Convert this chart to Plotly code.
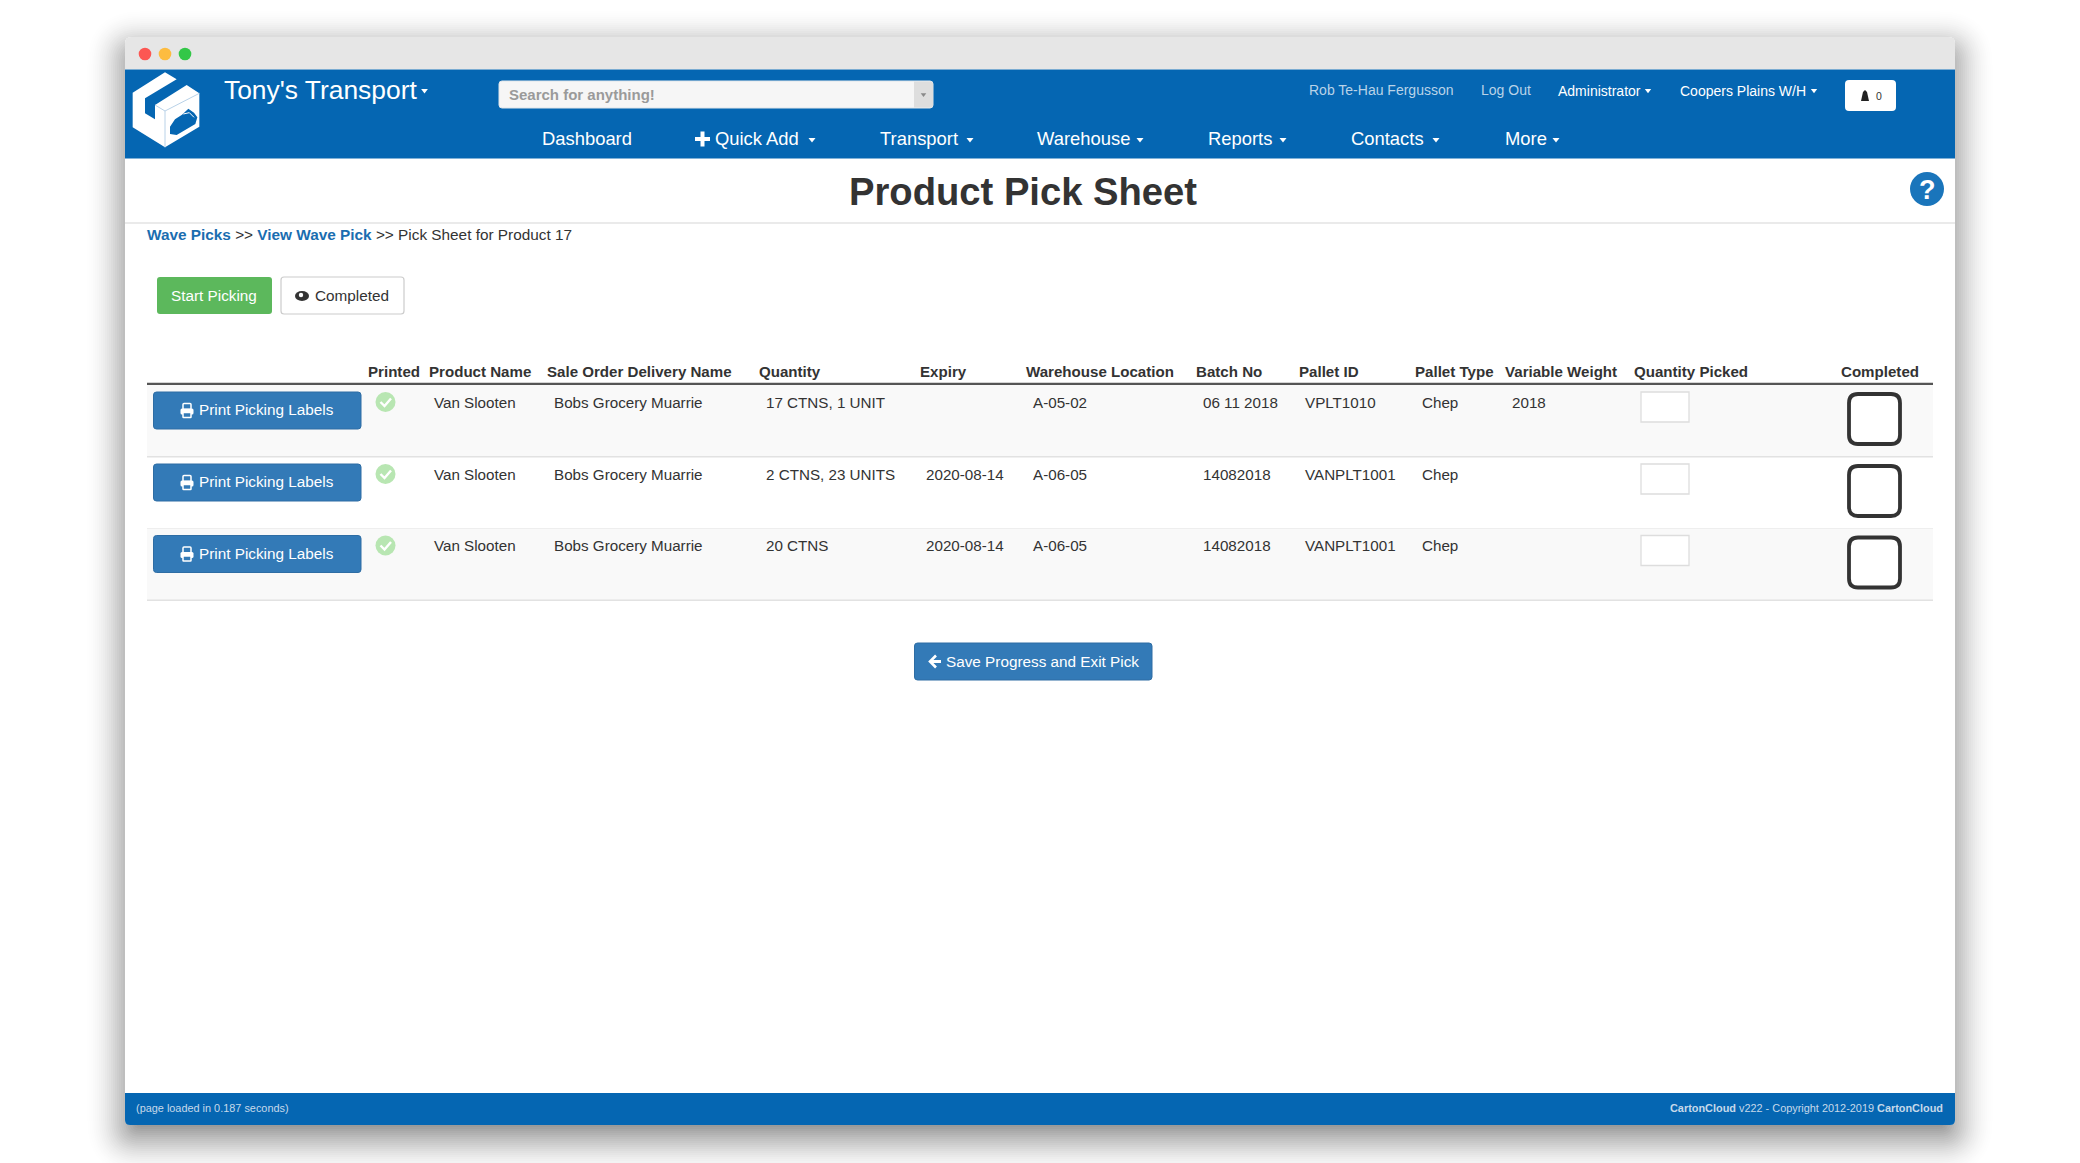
import plotly.graph_objects as go

# Page texts
brand = "Tony's Transport"
search_hint = "Search for anything!"
nav_items = ["Dashboard", "Quick Add", "Transport", "Warehouse", "Reports", "Contacts", "More"]
user_name = "Rob Te-Hau Fergusson"
logout = "Log Out"
role = "Administrator"
depot = "Coopers Plains W/H"
page_title = "Product Pick Sheet"

# Table contents
headers = ["Printed", "Product Name", "Sale Order Delivery Name", "Quantity", "Expiry",
           "Warehouse Location", "Batch No", "Pallet ID", "Pallet Type", "Variable Weight",
           "Quantity Picked", "Completed"]
products = ["Van Slooten", "Van Slooten", "Van Slooten"]
customers = ["Bobs Grocery Muarrie", "Bobs Grocery Muarrie", "Bobs Grocery Muarrie"]
quantities = ["17 CTNS, 1 UNIT", "2 CTNS, 23 UNITS", "20 CTNS"]
expiries = ["", "2020-08-14", "2020-08-14"]
locations = ["A-05-02", "A-06-05", "A-06-05"]
batches = ["06 11 2018", "14082018", "14082018"]
pallets = ["VPLT1010", "VANPLT1001", "VANPLT1001"]
pallet_types = ["Chep", "Chep", "Chep"]
weights = ["2018", "", ""]

# Layout in screen pixels
W, H = 2080, 1163
WIN_L, WIN_R, WIN_T, WIN_B = 125, 1955, 37, 1125
BLUE = "#0566b2"
BTN = "#337ab7"
FONT = "Liberation Sans"
nav_x = [541, 714, 879, 1035.5, 1206.5, 1350, 1503.5]
nav_caret_x = [0, 812, 970, 1140, 1283, 1436, 1556]
header_x = [367, 427.5, 545.5, 758, 918.5, 1024.5, 1194.5, 1297.5, 1414, 1504, 1633, 1840]
cell_x = [433, 552.5, 764.5, 924.5, 1031.5, 1201.5, 1303.5, 1420.5, 1510.5]
row_tops = [385, 457, 528.5]
ROW_H = 71.7

shapes = []
notes = []


def rrect(x0, y0, x1, y1, r=0, fill=None, line=None, lw=1, corners="tl tr br bl"):
    c = corners.split()
    tl, tr, br, bl = [r if k in c else 0 for k in ("tl", "tr", "br", "bl")]
    path = (f"M{x0+tl},{y0} L{x1-tr},{y0} Q{x1},{y0} {x1},{y0+tr} L{x1},{y1-br} Q{x1},{y1} {x1-br},{y1} "
            f"L{x0+bl},{y1} Q{x0},{y1} {x0},{y1-bl} L{x0},{y0+tl} Q{x0},{y0} {x0+tl},{y0} Z")
    shapes.append(dict(type="path", path=path, fillcolor=fill or "rgba(0,0,0,0)",
                       line=dict(color=line or "rgba(0,0,0,0)", width=lw if line else 0)))


def poly(points, fill=None, line=None, lw=1, close=True):
    path = "M" + " L".join(f"{x},{y}" for x, y in points) + (" Z" if close else "")
    shapes.append(dict(type="path", path=path, fillcolor=fill or "rgba(0,0,0,0)",
                       line=dict(color=line or "rgba(0,0,0,0)", width=lw if line else 0)))


def circle(cx, cy, r, fill):
    shapes.append(dict(type="circle", x0=cx-r, x1=cx+r, y0=cy-r, y1=cy+r, fillcolor=fill, line=dict(width=0)))


def text(x, y, s, size=15, color="#333333", anchor="left"):
    notes.append(dict(x=x, y=y, text=s, showarrow=False, xanchor=anchor, yanchor="middle", borderpad=0,
                      font=dict(family=FONT, size=size, color=color)))


def caret(x, y, w=4, color="white"):
    poly([(x-w, y-w*0.6), (x+w, y-w*0.6), (x, y+w*0.7)], fill=color)


def printer(x, y):
    rrect(x-4, y-7, x+4, y-1, 1, line="white", lw=1.5)
    rrect(x-6.5, y-2, x+6.5, y+4, 1.5, fill="white")
    rrect(x-4, y+2, x+4, y+7, 0.5, fill=BTN, line="white", lw=1.5)


# Window shadow, soft falloff from stacked see-through rectangles
SHADOW_REACH = 42
SHADOW_DROP = 12
darkness = lambda g: 0.27 * (1 - g / SHADOW_REACH) ** 2
for g in range(SHADOW_REACH, -SHADOW_DROP - 2, -2):
    alpha = darkness(g - 2) - darkness(g)
    rrect(WIN_L-g, WIN_T-g+SHADOW_DROP, WIN_R+g, WIN_B+g+SHADOW_DROP, max(g + 16, 4), fill=f"rgba(0,0,0,{alpha:.4f})")

# Window
rrect(WIN_L, WIN_T, WIN_R, WIN_B, 6, fill="white")
rrect(WIN_L, WIN_T, WIN_R, 69.5, 6, fill="#e6e6e6", corners="tl tr")
rrect(WIN_L, 69.5, WIN_R, 158.5, fill=BLUE)
rrect(WIN_L, 1093, WIN_R, WIN_B, 5, fill=BLUE, corners="br bl")
for cx, col in zip((145, 165, 185), ("#fc5753", "#fdbc40", "#33c748")):
    circle(cx, 54, 6.3, col)

# Logo
logo_pts = [(38, 188), (135, 127), (170, 148), (75, 205), (75, 250), (105, 268), (105, 225), (200, 165),
            (238, 190), (238, 290), (135, 352), (38, 292)]
to_px = lambda p: (120 + p[0] / 3, 30 + p[1] / 3)
poly([to_px(p) for p in logo_pts], fill="white")
poly([to_px(p) for p in [(105, 225), (135, 243), (238, 190)]], line="#b9d2e8", lw=1, close=False)
poly([to_px(p) for p in [(135, 243), (135, 352)]], line="#b9d2e8", lw=1, close=False)
poly([to_px(p) for p in [(150, 312), (150, 290), (165, 268), (186, 254), (205, 236), (222, 248), (232, 262),
                         (226, 282), (170, 315)]], fill=BLUE)
poly([to_px(p) for p in [(190, 252), (208, 248), (222, 262)]], line="white", lw=1, close=False)

# Top bar
text(223, 89.5, brand, 26.4, "white")
caret(424.5, 91, 3.4)
rrect(499, 81, 933, 108, 3, fill="#f6f6f6", line="#dfe5ea", lw=1)
rrect(914, 81.5, 933, 107.5, 3, fill="#dedede", corners="tr br")
caret(923.5, 95, 2.8, "#8a8a8a")
text(507.5, 94.5, f"<b>{search_hint}</b>", 15, "#9a9a9a")
text(1308, 89.5, user_name, 14, "#b9d3e8")
text(1480, 89.5, logout, 14, "#b9d3e8")
text(1557, 90.5, role, 14, "white")
caret(1648, 91, 3.2)
text(1679, 90.5, depot, 14, "white")
caret(1814, 91, 3.2)
rrect(1845, 80, 1896, 111, 4, fill="white")
poly([(1861, 101), (1863, 92), (1865, 90), (1867, 92), (1869, 101)], fill="#222222")
text(1875, 95.5, "0", 10.5, "#333333")

# Menu
for x, cx, name in zip(nav_x, nav_caret_x, nav_items):
    text(x, 138.5, name, 18.4, "white")
    if cx:
        caret(cx, 140, 3.5)
rrect(695, 137, 710, 141, fill="white")
rrect(700.5, 131.5, 704.5, 146.5, fill="white")

# Heading and breadcrumb
text(1023, 191.5, f"<b>{page_title}</b>", 38.2, "#333333", "center")
poly([(WIN_L, 223), (WIN_R, 223)], line="#e3e3e3", lw=1.5, close=False)
circle(1927, 189, 17, "#1a75bb")
text(1927, 189.5, "<b>?</b>", 27, "white", "center")
link = '<span style="color:#1a6db0"><b>%s</b></span>'
text(146, 234.5, f"{link % 'Wave Picks'} &gt;&gt; {link % 'View Wave Pick'} &gt;&gt; Pick Sheet for Product 17", 15.35)

# Action buttons
rrect(157, 277, 272, 314, 3, fill="#5cb85c")
text(213.5, 295.5, "Start Picking", 15.3, "white", "center")
rrect(281, 277, 404, 314, 3, fill="white", line="#cccccc", lw=1.2)
shapes.append(dict(type="circle", x0=295, x1=309, y0=291, y1=301, fillcolor="#333333", line=dict(width=0)))
circle(301, 295, 2.2, "white")
text(313.5, 295.5, "Completed", 15.3, "#333333")

# Table
for x, name in zip(header_x, headers):
    text(x, 371.5, f"<b>{name}</b>", 15.1, "#333333")
poly([(147, 384), (1933, 384)], line="#555555", lw=2.4, close=False)
columns = [products, customers, quantities, expiries, locations, batches, pallets, pallet_types, weights]
for i, top in enumerate(row_tops):
    if i != 1:
        rrect(147, top, 1933, top + ROW_H, fill="#f9f9f9")
    poly([(147, top + ROW_H), (1933, top + ROW_H)], line="#e2e2e2", lw=1.5, close=False)
    rrect(153.5, top + 7, 361, top + 44, 3, fill=BTN, line="#2e6da4", lw=1)
    printer(187, top + 25.5)
    text(198, top + 24.5, "Print Picking Labels", 15.3, "white")
    circle(385.5, top + 17, 10, "#b8e6b2")
    poly([(380.5, top + 17), (384.5, top + 21), (391, top + 13.5)], line="white", lw=2.4, close=False)
    for x, col in zip(cell_x, columns):
        if col[i]:
            text(x, top + 17, col[i], 15.2, "#333333")
    rrect(1641, top + 7, 1689, top + 37, fill="white", line="#dddddd", lw=1.3)
    rrect(1849, top + 9, 1900, top + 59, 9, fill="white", line="#333333", lw=3.8)

# Save button
rrect(914.5, 643, 1152, 680, 3, fill=BTN, line="#2e6da4", lw=1)
poly([(941, 661.5), (930, 661.5)], line="white", lw=3, close=False)
poly([(936, 655.5), (930, 661.5), (936, 667.5)], line="white", lw=2.6, close=False)
text(945, 661.5, "Save Progress and Exit Pick", 15.3, "white")

# Footer
text(135, 1108, "(page loaded in 0.187 seconds)", 10.9, "#c5d9ea")
text(1944, 1108, "<b>CartonCloud</b> v222 - Copyright 2012-2019 <b>CartonCloud</b>", 10.9, "#c5d9ea", "right")

fig = go.Figure()
fig.update_layout(width=W, height=H, margin=dict(l=0, r=0, t=0, b=0), paper_bgcolor="white", plot_bgcolor="white",
                  xaxis=dict(range=[0, W], visible=False, fixedrange=True),
                  yaxis=dict(range=[H, 0], visible=False, fixedrange=True),
                  shapes=shapes, annotations=notes, showlegend=False)
fig.write_html("out.html", config=dict(displayModeBar=False),
               post_script="document.body.style.margin='0';document.body.style.overflow='hidden';")
